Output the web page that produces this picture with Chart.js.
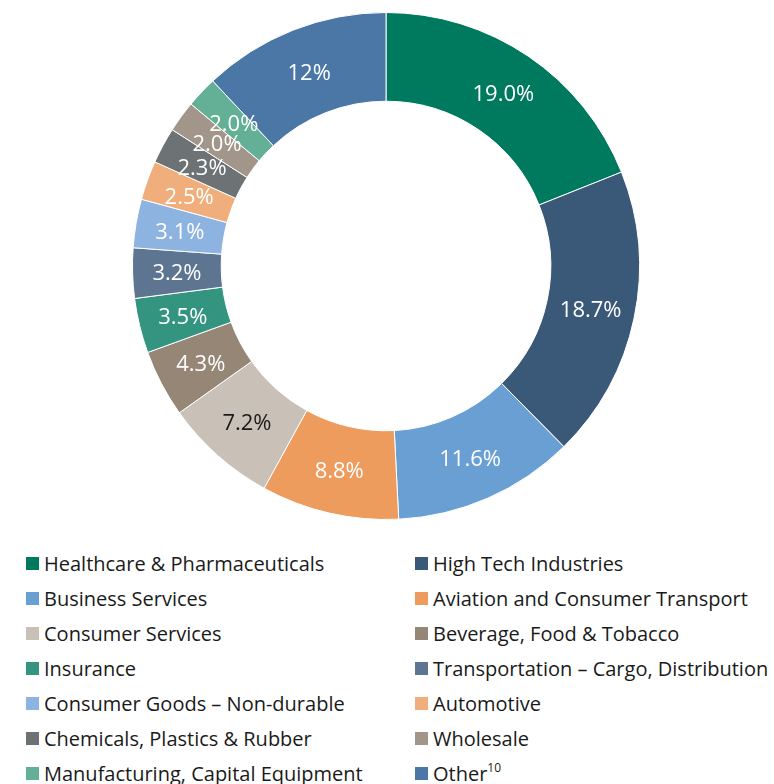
<!DOCTYPE html>
<html>
<head>
<meta charset="utf-8">
<script src="https://cdn.jsdelivr.net/npm/chart.js@4/dist/chart.umd.min.js"></script>
<style>
    html, body { margin: 0; padding: 0; background: #fff; }
    body { width: 774px; height: 784px; position: relative; overflow: hidden; font-family: 'Open Sans', sans-serif; }
    #wrap { position: absolute; left: 0; top: 0; width: 774px; height: 532px; }
    #legend { position: absolute; left: 0; top: 546px; width: 774px; }
    .lg-item { position: absolute; height: 35px; line-height: 35px; font-size: 20px; color: #1a1a1a; white-space: nowrap; }
    .lg-box { position: absolute; top: 11px; width: 13px; height: 13px; }
    .lg-text { position: absolute; left: 18px; top: 0; }
    .lg-text sup { font-size: 12px; vertical-align: 0; position: relative; top: -9px; }
</style>
</head>
<body>
<div id="wrap"><canvas id="donut"></canvas></div>
<div id="legend"></div>
<script>
// ================================================================
// DATA
// ================================================================
const categories = [
    'Healthcare & Pharmaceuticals', 'High Tech Industries', 'Business Services',
    'Aviation and Consumer Transport', 'Consumer Services', 'Beverage, Food & Tobacco',
    'Insurance', 'Transportation – Cargo, Distribution', 'Consumer Goods – Non-durable',
    'Automotive', 'Chemicals, Plastics & Rubber', 'Wholesale',
    'Manufacturing, Capital Equipment', 'Other'
];
const shares = [19.0, 18.7, 11.6, 8.8, 7.2, 4.3, 3.5, 3.2, 3.1, 2.5, 2.3, 2.0, 2.0, 12];
const shareLabels = ['19.0%', '18.7%', '11.6%', '8.8%', '7.2%', '4.3%', '3.5%', '3.2%', '3.1%', '2.5%', '2.3%', '2.0%', '2.0%', '12%'];
const colors = [
    '#007a5e', '#3a5878', '#6a9fd3', '#ee9b5e', '#c9c0b8', '#958676', '#339580',
    '#5d7591', '#8db3e0', '#f0ae7c', '#6d7274', '#a2968b', '#64b097', '#4b77a6'
];
const labelColors = colors.map((c, i) => i === 4 ? '#1a1a1a' : '#ffffff');

// ================================================================
// LABEL PLUGIN
// ================================================================
const sliceLabels = {
    id: 'sliceLabels',
    afterDatasetsDraw(chart) {
        const ctx = chart.ctx;
        const meta = chart.getDatasetMeta(0);
        ctx.save();
        ctx.font = '22px "Open Sans"';
        ctx.textAlign = 'center';
        ctx.textBaseline = 'middle';
        meta.data.forEach((arc, i) => {
            const p = arc.tooltipPosition();
            ctx.fillStyle = labelColors[i];
            ctx.fillText(shareLabels[i], p.x, p.y + 2);
        });
        ctx.restore();
    }
};

new Chart(document.getElementById('donut').getContext('2d'), {
    type: 'doughnut',
    data: {
        labels: categories,
        datasets: [{ data: shares, backgroundColor: colors, borderColor: '#ffffff', borderWidth: 1 }]
    },
    options: {
        responsive: true,
        maintainAspectRatio: false,
        animation: false,
        cutout: '65%',
        layout: { padding: { top: 12, bottom: 12, left: 0, right: 2 } },
        plugins: { legend: { display: false }, tooltip: { enabled: false } }
    },
    plugins: [sliceLabels]
});

// ================================================================
// LEGEND (two columns)
// ================================================================
const legend = document.getElementById('legend');
categories.forEach((name, i) => {
    const col = i % 2, row = Math.floor(i / 2);
    const item = document.createElement('div');
    item.className = 'lg-item';
    item.style.left = (col === 0 ? 26 : 415) + 'px';
    item.style.top = (row * 35) + 'px';
    const text = name === 'Other' ? 'Other<sup>10</sup>' : name.replace(/&/g, '&amp;');
    item.innerHTML = `<span class="lg-box" style="background:${colors[i]}"></span><span class="lg-text">${text}</span>`;
    legend.appendChild(item);
});
</script>
</body>
</html>
